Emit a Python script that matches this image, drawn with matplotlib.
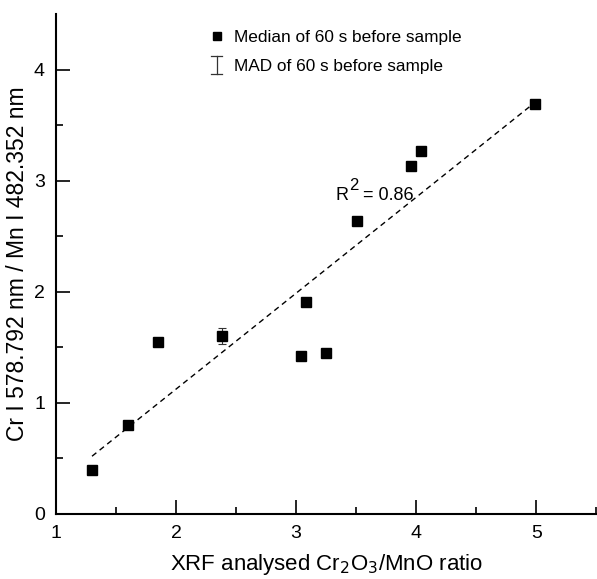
import numpy as np
import matplotlib
matplotlib.use("Agg")
import matplotlib.pyplot as plt
from matplotlib.lines import Line2D
from matplotlib.legend_handler import HandlerBase

plt.rcParams['font.family'] = ['Liberation Sans', 'DejaVu Sans']

# Data
xrf_ratio = [1.30, 1.60, 1.85, 2.38, 3.04, 3.25, 3.08, 3.51, 3.96, 4.04, 4.99]
line_ratio = [0.40, 0.80, 1.55, 1.60, 1.42, 1.45, 1.91, 2.64, 3.13, 3.27, 3.69]
mad = [0.02, 0.02, 0.03, 0.07, 0.02, 0.02, 0.02, 0.02, 0.02, 0.02, 0.04]
r2_value = "0.86"
x_ticks = [1, 2, 3, 4, 5]
y_ticks = [0, 1, 2, 3, 4]
legend_labels = ["Median of 60 s before sample", "MAD of 60 s before sample"]

fig = plt.figure(figsize=(5.97, 5.79), dpi=100)
ax = fig.add_axes([0.0938, 0.1123, 0.905, 0.8635])

ax.errorbar(xrf_ratio, line_ratio, yerr=mad, fmt='s', color='black', ms=7.2,
            ecolor='#333333', elinewidth=0.8, capsize=3, capthick=0.8)

xa = np.array(xrf_ratio)
slope, intercept = np.polyfit(xa, np.array(line_ratio), 1)
xf = np.array([xa.min(), xa.max()])
ax.plot(xf, slope * xf + intercept, ls=(0, (4, 3)), color='black', lw=1.0)

# R^2 annotation with full-size raised "2"
ax.annotate("R", (3.33, 2.83), xytext=(0, 0), textcoords='offset points',
            fontsize=13, ha='left', va='baseline')
ax.annotate("2", (3.33, 2.83), xytext=(9.5, 7), textcoords='offset points',
            fontsize=12, ha='left', va='baseline')
ax.annotate("= " + r2_value, (3.33, 2.83), xytext=(19.5, 0), textcoords='offset points',
            fontsize=13, ha='left', va='baseline')

ax.set_xlim(1, 5.5)
ax.set_ylim(0, 4.5)
ax.set_xticks(x_ticks)
ax.set_yticks(y_ticks)
ax.set_xticks(np.arange(1.5, 5.6, 1.0), minor=True)
ax.set_yticks(np.arange(0.5, 4.5, 1.0), minor=True)
ax.tick_params(which='major', direction='in', length=10, width=1.2, labelsize=14, pad=8)
ax.tick_params(which='minor', direction='in', length=5, width=1.2)
for s in ['top', 'right']:
    ax.spines[s].set_visible(False)
for s in ['left', 'bottom']:
    ax.spines[s].set_linewidth(1.5)

ax.set_xlabel(r"XRF analysed Cr$_2$O$_3$/MnO ratio", fontsize=16, labelpad=7)
ax.set_ylabel("Cr I 578.792 nm / Mn I 482.352 nm", fontsize=16.5, va='center')
ax.yaxis.set_label_coords(-0.071, 0.5)


class ErrHandler(HandlerBase):
    def create_artists(self, legend, orig_handle, xdescent, ydescent, width,
                       height, fontsize, trans):
        cx = width / 2 - xdescent
        h = 18 * 72 / 100
        y0 = height / 2 - ydescent - h / 2
        cw = 4
        col = '#333333'
        a = Line2D([cx, cx], [y0, y0 + h], color=col, lw=0.9, transform=trans)
        b = Line2D([cx - cw, cx + cw], [y0, y0], color=col, lw=0.9, transform=trans)
        c = Line2D([cx - cw, cx + cw], [y0 + h, y0 + h], color=col, lw=0.9, transform=trans)
        return [a, b, c]


h_med = Line2D([], [], marker='s', ls='none', color='black', ms=6)
h_mad = Line2D([], [], color='#333333')
ax.legend([h_med, h_mad], legend_labels,
          handler_map={h_mad: ErrHandler()},
          loc='upper left', bbox_to_anchor=(0.25, 1.0), frameon=False,
          fontsize=12.4, handlelength=1.2, handletextpad=0.4, labelspacing=0.85)

fig.savefig("out.png", dpi=100)
